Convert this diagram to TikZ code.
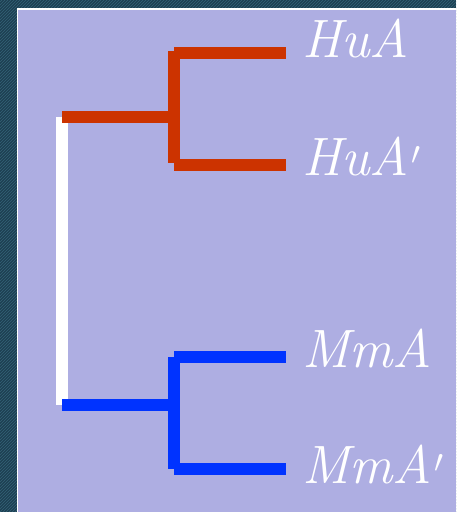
\documentclass[tikz,border=0pt]{standalone}
\usetikzlibrary{patterns}
\usepackage{graphicx}
\definecolor{bgdark}{HTML}{1E4052}
\definecolor{bgline}{HTML}{336377}
\definecolor{panel}{HTML}{AEAEE2}
\definecolor{treered}{HTML}{CC3300}
\definecolor{treeblue}{HTML}{0033FF}
\newcommand{\myprime}{\kern0.04em\raisebox{0.2em}{\scalebox{1.3}{$\prime$}}}
\tikzset{
  branch/.style={line width=12pt, line cap=butt},
  leaf/.style={anchor=base west, inner sep=0pt, text=white, font=\fontsize{54}{54}\selectfont\itshape}
}
\begin{document}
\begin{tikzpicture}[x=1pt,y=-1pt]
\useasboundingbox (0,0) rectangle (456,512);
\fill[bgdark] (0,0) rectangle (456,512);
\fill[pattern=north east lines, pattern color=bgline] (0,0) rectangle (456,512);
\fill[white] (16.5,8) rectangle (456,512);
\fill[panel] (18,10) rectangle (456,512);
% junctions
\coordinate (root) at (62,117);
\coordinate (rootb) at (62,405);
\coordinate (rj) at (174,117);
\coordinate (rjt) at (174,51);
\coordinate (rjb) at (174,163);
\coordinate (bj) at (174,405);
\coordinate (bjt) at (174,357);
\coordinate (bjb) at (174,469);
\coordinate (rt0) at (174,53);
\coordinate (rb0) at (174,165);
\coordinate (bt0) at (174,357);
\coordinate (bb0) at (174,469);
\coordinate (rt) at (286,53);
\coordinate (rb) at (286,165);
\coordinate (bt) at (286,357);
\coordinate (bb) at (286,469);
% leaves
\node[leaf] (huA) at (302,57) {HuA};
\node[leaf] (huA2) at (302,175) {HuA\myprime};
\node[leaf] (mmA) at (302,367) {MmA};
\node[leaf] (mmA2) at (302,483) {MmA\myprime};
% tree
\draw[branch, white] (root) -- (rootb);
\draw[branch, treered] (root) -- (rj);
\draw[branch, treered] (rjt) -- (rjb);
\draw[branch, treered] (rt0) -- (rt);
\draw[branch, treered] (rb0) -- (rb);
\draw[branch, treeblue] (rootb) -- (bj);
\draw[branch, treeblue] (bjt) -- (bjb);
\draw[branch, treeblue] (bt0) -- (bt);
\draw[branch, treeblue] (bb0) -- (bb);
\end{tikzpicture}
\end{document}
